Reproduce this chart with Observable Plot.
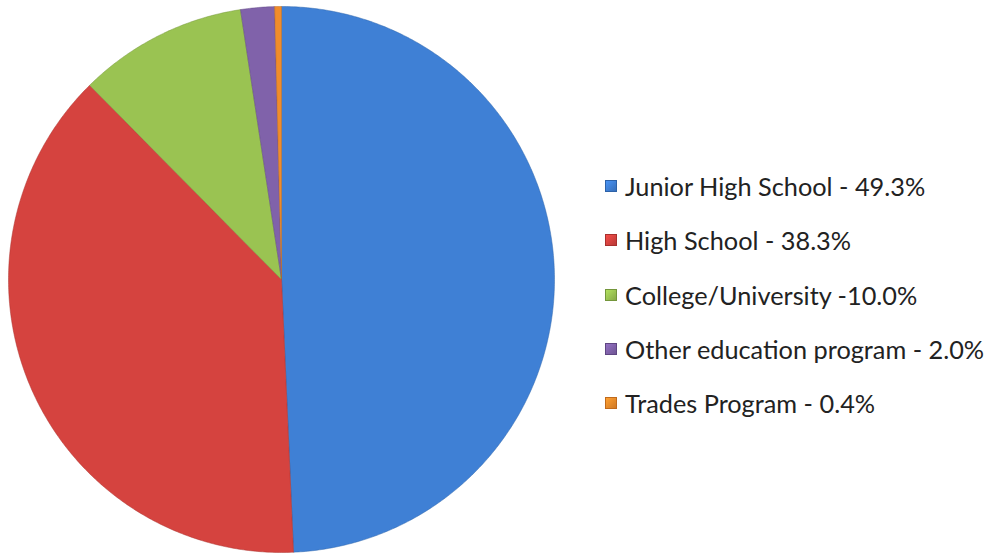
<!DOCTYPE html>
<html><head><meta charset="utf-8">
<script src="https://cdn.jsdelivr.net/npm/d3@7"></script>
<script src="https://cdn.jsdelivr.net/npm/@observablehq/plot@0.6"></script>
<style>
body{margin:0;background:#fff;}
#wrap{position:relative;width:994px;height:556px;}
#legend{position:absolute;left:605px;top:159px;font-family:Lato,"Open Sans",sans-serif;font-size:25.3px;color:#222;}
.row{display:flex;align-items:center;height:54.3px;white-space:nowrap;}
.sw{width:12px;height:12px;margin-right:8px;box-sizing:border-box;}
</style></head><body><div id="wrap"></div><script>
const categories = ["Junior High School","High School","College/University","Other education program","Trades Program"];
const values = [49.3, 38.3, 10.0, 2.0, 0.4];
const labels = ["Junior High School - 49.3%","High School - 38.3%","College/University -10.0%","Other education program - 2.0%","Trades Program - 0.4%"];
const colors = ["#3f80d5","#d5433f","#9ac352","#8062aa","#f08c2b"];
const borders = ["#2d62a8","#a8302d","#74963b","#5f4682","#c06a1c"];

// build slice outlines (clockwise from 12 o'clock) from the values
const total = d3.sum(values);
const pts = [];
let acc = 0;
values.forEach((v, i) => {
  const a0 = acc / total * 2 * Math.PI;
  const a1 = (acc + v) / total * 2 * Math.PI;
  acc += v;
  const n = Math.max(2, Math.ceil((a1 - a0) / (Math.PI / 360)));
  pts.push({cat: categories[i], x: 0, y: 0});
  for (let k = 0; k <= n; k++) {
    const a = a0 + (a1 - a0) * k / n;
    pts.push({cat: categories[i], x: Math.sin(a), y: Math.cos(a)});
  }
  pts.push({cat: categories[i], x: 0, y: 0});
});

const chart = Plot.plot({
  width: 570, height: 556,
  marginLeft: 8, marginRight: 16, marginTop: 6, marginBottom: 4,
  x: {domain: [-1, 1], axis: null},
  y: {domain: [-1, 1], axis: null},
  color: {domain: categories, range: colors},
  marks: [
    Plot.line(pts, {x: "x", y: "y", z: "cat", fill: "cat", stroke: "cat", strokeWidth: 0.8, strokeOpacity: 0.6})
  ]
});
chart.style.position = "absolute"; chart.style.left = "0"; chart.style.top = "0";
d3.select(chart).selectAll("path").attr("stroke", function(d, i){ return borders[i] || null; });
document.getElementById("wrap").appendChild(chart);

const leg = d3.select("#wrap").append("div").attr("id", "legend");
const rows = leg.selectAll(".row").data(labels).join("div").attr("class", "row");
rows.append("div").attr("class", "sw")
  .style("background", (d, i) => `linear-gradient(135deg, ${d3.color(colors[i]).brighter(0.4)}, ${d3.color(colors[i]).darker(0.4)})`)
  .style("border", (d, i) => `1px solid ${borders[i]}`);
rows.append("span").text(d => d);
</script></body></html>
